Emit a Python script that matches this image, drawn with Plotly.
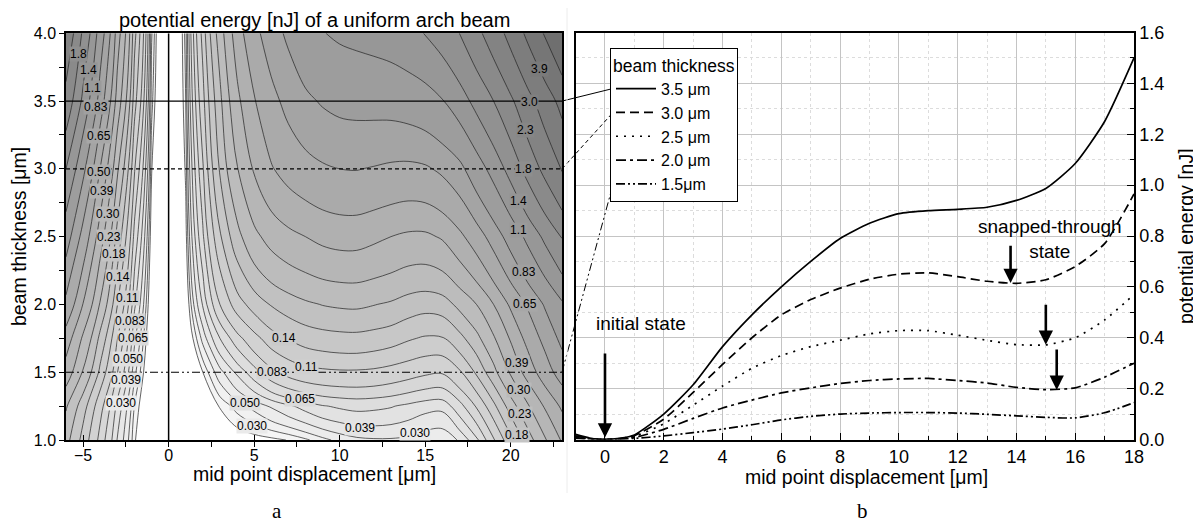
import plotly.graph_objects as go

FONT = "Liberation Sans, Arial, sans-serif"
W, H = 1201, 524          # screenshot size
OX, OY = 8, 8             # page offset of the figure
FW, FH = W - OX, H - OY   # figure size

# ---------------- data ----------------
disp = [-6, -5, -4, -3, -2, -1, -0.5, 0, 0.5, 1, 2, 3, 4, 5, 6, 7, 8, 9, 10,
        11, 12, 13, 14, 15, 16, 17, 18, 19, 20, 21, 22, 23]
thick = [1.0, 1.25, 1.5, 1.75, 2.0, 2.5, 3.0, 3.5, 4.0]

E_100 = [0.195, 0.127, 0.0753, 0.0383, 0.0148, 0.0029, 0.0007, 0, 0.0003, 0.0012, 0.004, 0.0075,
         0.0105, 0.0118, 0.0128, 0.0142, 0.017, 0.021, 0.025, 0.028, 0.029, 0.029, 0.028, 0.025,
         0.024, 0.031, 0.046, 0.08, 0.13, 0.2, 0.29, 0.4]
E_125 = [0.236, 0.154, 0.0909, 0.0462, 0.0179, 0.0035, 0.0009, 0, 0.0006, 0.0024, 0.008, 0.0145,
         0.02, 0.025, 0.031, 0.037, 0.043, 0.049, 0.052, 0.054, 0.053, 0.051, 0.047, 0.043,
         0.042, 0.058, 0.085, 0.13, 0.2, 0.29, 0.4, 0.52]
E_150 = [0.346, 0.224, 0.131, 0.0657, 0.0248, 0.0047, 0.0012, 0, 0.001, 0.004, 0.014, 0.027,
         0.041, 0.058, 0.077, 0.091, 0.1, 0.104, 0.106, 0.106, 0.104, 0.099, 0.093, 0.087,
         0.085, 0.105, 0.145, 0.21, 0.31, 0.43, 0.57, 0.73]
E_175 = [0.442, 0.286, 0.167, 0.0838, 0.0317, 0.006, 0.0015, 0, 0.0015, 0.006, 0.025, 0.05,
         0.075, 0.1, 0.125, 0.142, 0.155, 0.162, 0.166, 0.167, 0.162, 0.155, 0.144, 0.136,
         0.137, 0.165, 0.212, 0.29, 0.4, 0.54, 0.7, 0.88]
E_200 = [0.605, 0.386, 0.2235, 0.111, 0.041, 0.0075, 0.0019, 0, 0.002, 0.008, 0.04, 0.083,
         0.124, 0.155, 0.183, 0.203, 0.22, 0.232, 0.238, 0.24, 0.232, 0.222, 0.205, 0.196,
         0.203, 0.245, 0.3, 0.39, 0.52, 0.67, 0.85, 1.06]
E_250 = [0.926, 0.587, 0.336, 0.164, 0.0594, 0.0105, 0.0026, 0, 0.003, 0.012, 0.062, 0.135,
         0.21, 0.28, 0.33, 0.365, 0.39, 0.415, 0.428, 0.428, 0.41, 0.39, 0.373, 0.372,
         0.4, 0.47, 0.57, 0.72, 0.92, 1.17, 1.47, 1.82]
E_300 = [1.40, 0.877, 0.497, 0.239, 0.085, 0.0145, 0.0036, 0, 0.0037, 0.015, 0.08, 0.185,
         0.295, 0.4, 0.49, 0.55, 0.595, 0.63, 0.65, 0.655, 0.64, 0.622, 0.614, 0.628,
         0.68, 0.77, 0.965, 1.2, 1.52, 1.95, 2.45, 3.05]
E_350 = [2.11, 1.31, 0.736, 0.348, 0.121, 0.02, 0.005, 0, 0.0045, 0.018, 0.1, 0.215,
         0.365, 0.49, 0.6, 0.7, 0.79, 0.85, 0.888, 0.9, 0.905, 0.913, 0.94, 0.987,
         1.085, 1.25, 1.5, 1.8, 2.2, 2.75, 3.4, 4.2]
E_400 = [2.77, 1.71, 0.95, 0.44, 0.151, 0.024, 0.006, 0, 0.005, 0.02, 0.12, 0.26,
         0.44, 0.6, 0.74, 0.87, 1.0, 1.09, 1.14, 1.17, 1.2, 1.24, 1.31, 1.41,
         1.56, 1.8, 2.15, 2.6, 3.25, 4.1, 5.1, 6.3]
energy = [E_100, E_125, E_150, E_175, E_200, E_250, E_300, E_350, E_400]

levels = [0.014, 0.018, 0.023, 0.030, 0.039, 0.050, 0.065, 0.083, 0.11, 0.14, 0.18,
          0.23, 0.30, 0.39, 0.50, 0.65, 0.83, 1.1, 1.4, 1.8, 2.3, 3.0, 3.9, 5.0, 6.5, 8.3]

curve_thick = [3.5, 3.0, 2.5, 2.0, 1.5]
curve_names = ["3.5 μm", "3.0 μm", "2.5 μm", "2.0 μm", "1.5μm"]
marked_thick = [3.5, 3.0, 1.5]

# where the contour labels sit (level, displacement, thickness)
label_spots = [
    (1.8, -5.28, 3.85), (1.4, -4.69, 3.73), (1.1, -4.46, 3.60), (0.83, -4.23, 3.46),
    (0.65, -4.05, 3.24), (0.50, -4.05, 2.98), (0.39, -3.88, 2.84), (0.30, -3.53, 2.67),
    (0.23, -3.47, 2.50), (0.18, -3.17, 2.37), (0.14, -2.94, 2.20), (0.11, -2.42, 2.05),
    (0.083, -2.25, 1.88), (0.065, -2.06, 1.75), (0.050, -2.35, 1.60), (0.039, -2.5, 1.44),
    (0.030, -2.8, 1.27),
    (0.14, 6.72, 1.75), (0.11, 8.05, 1.54), (0.083, 6.05, 1.50), (0.065, 7.7, 1.30),
    (0.050, 4.49, 1.27), (0.030, 4.9, 1.10), (0.039, 11.2, 1.09), (0.030, 14.4, 1.05),
    (0.18, 20.37, 1.04), (0.23, 20.57, 1.19), (0.30, 20.47, 1.37), (0.39, 20.37, 1.57),
    (0.65, 20.86, 2.00), (0.83, 20.76, 2.24), (1.1, 20.47, 2.55), (1.4, 20.47, 2.76),
    (1.8, 20.76, 3.00), (2.3, 20.86, 3.29), (3.0, 21.1, 3.49), (3.9, 21.7, 3.74),
]

# ---------------- styles ----------------
dash_of = {3.5: "solid", 3.0: "9px,5px", 2.5: "2px,6px", 2.0: "10px,4px,3px,4px",
           1.5: "9px,3px,2px,3px,2px,3px"}
mark_dash = {3.5: "solid", 3.0: "4px,3px", 1.5: "8px,3px,2px,3px,2px,3px"}


def fx(px):
    return (px - OX) / FW


def fy(py):
    return 1 - (py - OY) / FH


L_X = [fx(66), fx(562)]
L_Y = [fy(440), fy(33.3)]
R_X = [fx(575.6), fx(1134)]
R_Y = [fy(439.5), fy(32.5)]
LX_RANGE = [disp[0], disp[-1]]
LY_RANGE = [thick[0], thick[-1]]
RX_RANGE = [-1, 18]
RY_RANGE = [0, 1.6]


def band_gray(i):
    return max(0, min(255, int(round(250 - 4.6 * i - 0.05 * i * i))))


fig = go.Figure()

# filled bands (one constraint trace per level, darker for higher energy)
for i, L in enumerate(levels):
    g = band_gray(i + 1)
    fig.add_trace(go.Contour(
        x=disp, y=thick, z=energy, xaxis="x", yaxis="y",
        contours=dict(type="constraint", operation="<", value=L),
        fillcolor=f"rgb({g},{g},{g})", line=dict(width=0, smoothing=1.0),
        showscale=False, hoverinfo="skip", showlegend=False))

# contour lines
for L in levels:
    fig.add_trace(go.Contour(
        x=disp, y=thick, z=energy, xaxis="x", yaxis="y", autocontour=False,
        contours=dict(start=L, end=L, size=1, coloring="none", showlabels=False),
        line=dict(color="#222222", width=0.7, smoothing=1.0),
        showscale=False, hoverinfo="skip", showlegend=False))

# marker lines in the contour panel
fig.add_trace(go.Scatter(x=[0, 0], y=LY_RANGE, mode="lines", xaxis="x", yaxis="y",
                         line=dict(color="black", width=1.5), showlegend=False, hoverinfo="skip"))
for t in marked_thick:
    fig.add_trace(go.Scatter(x=LX_RANGE, y=[t, t], mode="lines", xaxis="x", yaxis="y",
                             line=dict(color="black", width=1.1, dash=mark_dash[t]),
                             showlegend=False, hoverinfo="skip"))

# energy curves in right panel
i0 = disp.index(RX_RANGE[0])
i1 = disp.index(RX_RANGE[1]) + 1
for t, name in zip(curve_thick, curve_names):
    row = energy[thick.index(t)]
    fig.add_trace(go.Scatter(
        x=disp[i0:i1], y=row[i0:i1], mode="lines", name=name, xaxis="x2", yaxis="y2",
        line=dict(color="black", width=1.7, dash=dash_of[t], shape="spline", smoothing=0.6),
        hoverinfo="skip"))


def lpx(v):
    return L_X[0] + (v - LX_RANGE[0]) / (LX_RANGE[1] - LX_RANGE[0]) * (L_X[1] - L_X[0])


def lpy(v):
    return L_Y[0] + (v - LY_RANGE[0]) / (LY_RANGE[1] - LY_RANGE[0]) * (L_Y[1] - L_Y[0])


legend_anchor = {3.5: 88.5, 3.0: 112.5, 1.5: 184.5}
shapes = []
for t in marked_thick:
    shapes.append(dict(type="line", xref="paper", yref="paper",
                       x0=lpx(LX_RANGE[1]), y0=lpy(t), x1=fx(613), y1=fy(legend_anchor[t]),
                       line=dict(color="black", width=1, dash=mark_dash[t])))
shapes.append(dict(type="line", xref="paper", yref="paper", x0=fx(567), x1=fx(567),
                   y0=1.0, y1=fy(493), line=dict(color="#ececec", width=1)))

axis_common = dict(showline=True, linecolor="black", linewidth=1.5, mirror=True,
                   zeroline=False, color="black", automargin=False)


def ptext(text, px, py, size=19.5, angle=0, family=FONT):
    return dict(text=text, x=fx(px), y=fy(py), xref="paper", yref="paper",
                xanchor="center", yanchor="middle", showarrow=False, textangle=angle,
                font=dict(size=size, family=family, color="black"))


annotations = [
    ptext("potential energy [nJ] of a uniform arch beam", 314, 20, size=20),
    ptext("mid point displacement [μm]", 314, 474),
    ptext("mid point displacement [μm]", 867, 477),
    ptext("beam thickness [μm]", 19, 237),
    ptext("potential energy [nJ]", 1186, 236),
    ptext("a", 277, 511, size=21, family="Liberation Serif, Times New Roman, serif"),
    ptext("b", 862, 511, size=21, family="Liberation Serif, Times New Roman, serif"),
    dict(text="initial state", x=1.22, y=0.455, xref="x2", yref="y2", showarrow=False,
         xanchor="center", yanchor="middle", font=dict(size=19, family=FONT)),
    dict(text="snapped-through<br>state", x=15.14, y=0.79, xref="x2", yref="y2",
         xanchor="center", yanchor="middle", showarrow=False, font=dict(size=19, family=FONT)),
]
annotations[3]["textangle"] = -90
annotations[4]["textangle"] = -90

arrows = [(0.0, 0.344, 0.008), (13.8, 0.768, 0.615), (15.0, 0.536, 0.372), (15.37, 0.36, 0.195)]
for ax_, y0, y1 in arrows:
    annotations.append(dict(x=ax_, y=y1, ax=ax_, ay=y0, xref="x2", yref="y2", axref="x2",
                            ayref="y2", showarrow=True, arrowhead=2, arrowsize=1.1,
                            arrowwidth=2.6, arrowcolor="black", text=""))

for lv, xv, tv in label_spots:
    i = levels.index(lv)
    g = int(round((band_gray(i) + band_gray(i + 1)) / 2))
    annotations.append(dict(text="{:#.2g}".format(lv), x=xv, y=tv, xref="x", yref="y",
                            xanchor="center", yanchor="middle", showarrow=False,
                            bgcolor=f"rgb({g},{g},{g})", borderpad=0,
                            font=dict(size=12, family=FONT, color="black")))

fig.update_layout(
    width=FW, height=FH, autosize=False,
    margin=dict(l=0, r=0, t=0, b=0, autoexpand=False),
    paper_bgcolor="white", plot_bgcolor="white",
    font=dict(family=FONT, color="black"),
    showlegend=True,
    legend=dict(x=fx(610), y=fy(48), xanchor="left", yanchor="top",
                bgcolor="white", bordercolor="black", borderwidth=1,
                title=dict(text="beam thickness", font=dict(size=17.5, family=FONT)),
                font=dict(size=16, family=FONT), itemwidth=40, tracegroupgap=0),
    xaxis=dict(domain=L_X, range=LX_RANGE, anchor="y", tick0=0, dtick=5,
               ticks="inside", ticklen=5, tickfont=dict(size=16), showgrid=False,
               minor=dict(dtick=2.5, ticks="outside", ticklen=5), **axis_common),
    yaxis=dict(domain=L_Y, range=LY_RANGE, anchor="x", dtick=0.5, tickformat=".1f",
               ticks="outside", ticklen=5, tickfont=dict(size=16), showgrid=False,
               minor=dict(dtick=0.25, ticks="outside", ticklen=5), **axis_common),
    xaxis2=dict(domain=R_X, range=RX_RANGE, anchor="y2", tick0=0, dtick=2,
                ticks="inside", ticklen=7, tickfont=dict(size=18),
                showgrid=True, gridcolor="#c4c4c4", gridwidth=1,
                minor=dict(dtick=1, ticks="inside", ticklen=4, showgrid=True,
                           gridcolor="#dcdcdc", griddash="dot"),
                **axis_common),
    yaxis2=dict(domain=R_Y, range=RY_RANGE, anchor="x2", side="right", dtick=0.2,
                tickformat=".1f", ticks="inside", ticklen=7, tickfont=dict(size=18),
                showgrid=True, gridcolor="#c4c4c4", gridwidth=1,
                minor=dict(dtick=0.1, ticks="inside", ticklen=4, showgrid=True,
                           gridcolor="#dcdcdc", griddash="dot"),
                **axis_common),
    shapes=shapes,
    annotations=annotations,
)

fig.write_html("out.html")
